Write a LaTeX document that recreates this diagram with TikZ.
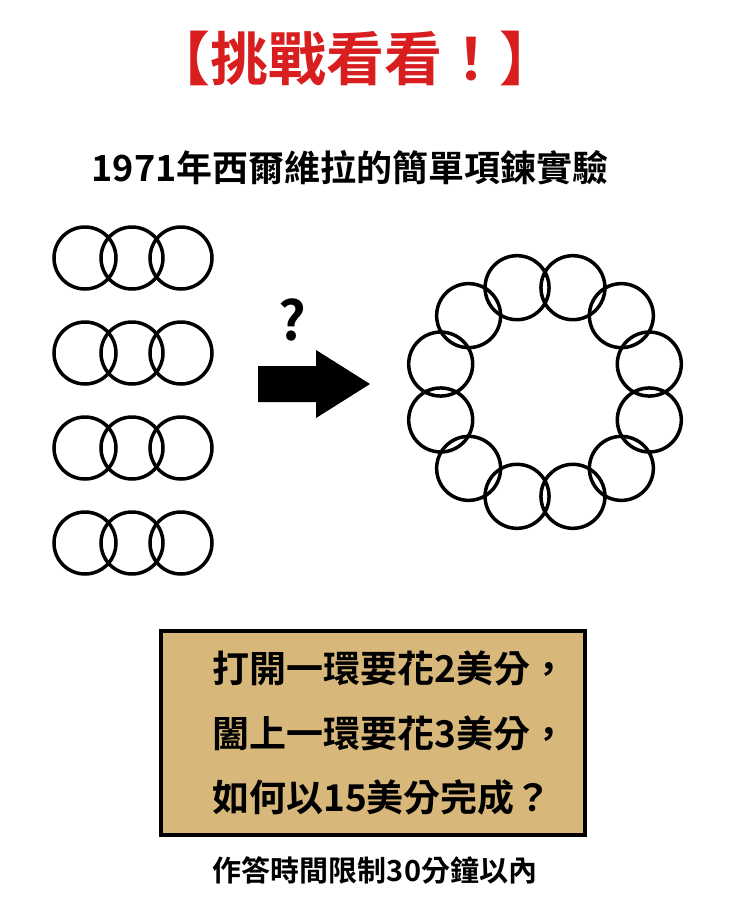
\documentclass[tikz,border=0pt]{standalone}
\usepackage{fontspec}
\newfontfamily\cjk{Noto Sans CJK TC Bold}
\definecolor{titred}{HTML}{D81E1E}
\definecolor{tan}{HTML}{D8B87A}
\begin{document}
\begin{tikzpicture}[x=1pt,y=-1pt,
  ring/.style={draw=black,line width=3.5pt},
  txt/.style={font=\cjk,inner sep=0pt}]
\useasboundingbox[fill=white] (0,0) rectangle (740,903);
\node[txt,text=titred,font=\cjk\fontsize{58}{62}\selectfont] (title) at (355,58) {【挑戰看看！】};
\node[txt,font=\cjk\fontsize{36}{40}\selectfont] (sub) at (350,168) {1971年西爾維拉的簡單項鍊實驗};
\foreach \y in {258,353,448,543}{
  \foreach \x in {85,132,181}{ \draw[ring] (\x,\y) circle (31); }
}
\node[txt,font=\cjk\fontsize{54}{58}\selectfont] (q) at (292,320) {?};
\fill (258,366) -- (316,366) -- (316,350) -- (370,384) -- (316,418) -- (316,402) -- (258,402) -- cycle;
\foreach \a in {15,45,...,345}{ \draw[ring] ({545+108*cos(\a)},{392-108*sin(\a)}) circle (32); }
\draw[line width=4pt,fill=tan] (161,631) rectangle (585,835);
\node[txt,anchor=west,font=\cjk\fontsize{37}{40}\selectfont] (l1) at (212,668) {打開一環要花2美分，};
\node[txt,anchor=west,font=\cjk\fontsize{37}{40}\selectfont] (l2) at (212,733) {闔上一環要花3美分，};
\node[txt,anchor=west,font=\cjk\fontsize{37}{40}\selectfont] (l3) at (212,797) {如何以15美分完成？};
\node[txt,font=\cjk\fontsize{29}{32}\selectfont] (foot) at (375,870) {作答時間限制30分鐘以內};
\end{tikzpicture}
\end{document}
